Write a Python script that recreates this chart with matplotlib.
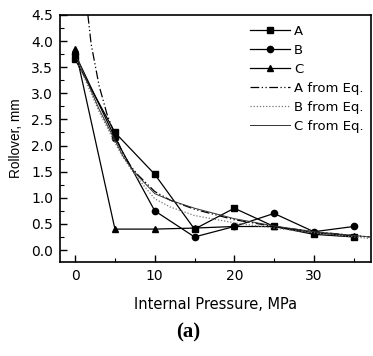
import matplotlib
matplotlib.use("Agg")
import matplotlib.pyplot as plt
from matplotlib.ticker import MultipleLocator

plt.rcParams['font.family'] = ['DejaVu Sans']

pressure = [0, 5, 10, 15, 20, 25, 30, 35]
A = [3.65, 2.25, 1.45, 0.40, 0.80, 0.45, 0.30, 0.25]
B = [3.75, 2.15, 0.75, 0.25, 0.45, 0.70, 0.35, 0.45]
C = [3.85, 0.40, 0.40, 0.42, 0.45, 0.45, 0.33, 0.27]

A_eq_x = [1.6, 2, 3, 4, 5, 6, 7, 8, 10, 12, 15, 20, 25, 30, 37]
A_eq_y = [4.5, 3.95, 3.15, 2.6, 2.2, 1.85, 1.6, 1.42, 1.12, 0.95, 0.78, 0.58, 0.45, 0.35, 0.25]
B_eq_x = [0.3, 1, 2, 3, 4, 5, 6, 7, 8, 10, 12, 15, 20, 25, 30, 37]
B_eq_y = [3.6, 3.35, 3.0, 2.65, 2.35, 2.05, 1.78, 1.55, 1.35, 0.98, 0.82, 0.66, 0.52, 0.42, 0.33, 0.22]
C_eq_x = [0.3, 1, 2, 3, 4, 5, 6, 7, 8, 10, 12, 15, 20, 25, 30, 37]
C_eq_y = [3.65, 3.4, 3.05, 2.7, 2.4, 2.1, 1.8, 1.58, 1.4, 1.08, 0.95, 0.8, 0.6, 0.46, 0.35, 0.25]

fig = plt.figure(figsize=(3.73, 3.56), dpi=100)
ax = fig.add_axes([0.161, 0.264, 0.834, 0.694])

ax.plot(pressure, A, '-', color='black', lw=0.9, marker='s', ms=4.5, label='A')
ax.plot(pressure, B, '-', color='black', lw=0.9, marker='o', ms=4.5, label='B')
ax.plot(pressure, C, '-', color='black', lw=0.9, marker='^', ms=5, label='C')
ax.plot(A_eq_x, A_eq_y, color='black', lw=0.9, ls=(0, (7, 2, 1, 2, 1, 2)), label='A from Eq.')
ax.plot(B_eq_x, B_eq_y, color='#777777', lw=0.9, ls=(0, (1, 1.5)), label='B from Eq.')
ax.plot(C_eq_x, C_eq_y, color='#333333', lw=0.7, ls='-', label='C from Eq.')

ax.set_xlim(-1.9, 37.2)
ax.set_ylim(-0.23, 4.5)
ax.xaxis.set_major_locator(MultipleLocator(10))
ax.xaxis.set_minor_locator(MultipleLocator(5))
ax.yaxis.set_major_locator(MultipleLocator(0.5))
ax.yaxis.set_minor_locator(MultipleLocator(0.25))
ax.tick_params(which='both', direction='in', top=False, right=False, labelsize=10)
ax.tick_params(which='major', length=5, width=1, pad=5)
ax.tick_params(which='minor', length=3, width=0.8)
for s in ax.spines.values():
    s.set_linewidth(1.2)

ax.set_xlabel('Internal Pressure, MPa', fontsize=10.5, labelpad=10)
ax.set_ylabel('Rollover, mm', fontsize=9.8, labelpad=6,
              family=['Liberation Sans', 'DejaVu Sans'])

ax.legend(loc='upper left', frameon=False, fontsize=9.5, handlelength=3.0,
          labelspacing=0.45, borderaxespad=0, borderpad=0, handletextpad=0.3,
          bbox_to_anchor=(0.612, 0.96))

fig.text(0.504, 0.065, '(a)', ha='center', va='center', fontsize=15,
         fontweight='bold', family=['Liberation Serif', 'DejaVu Serif'])

fig.savefig('out.png', dpi=100)
